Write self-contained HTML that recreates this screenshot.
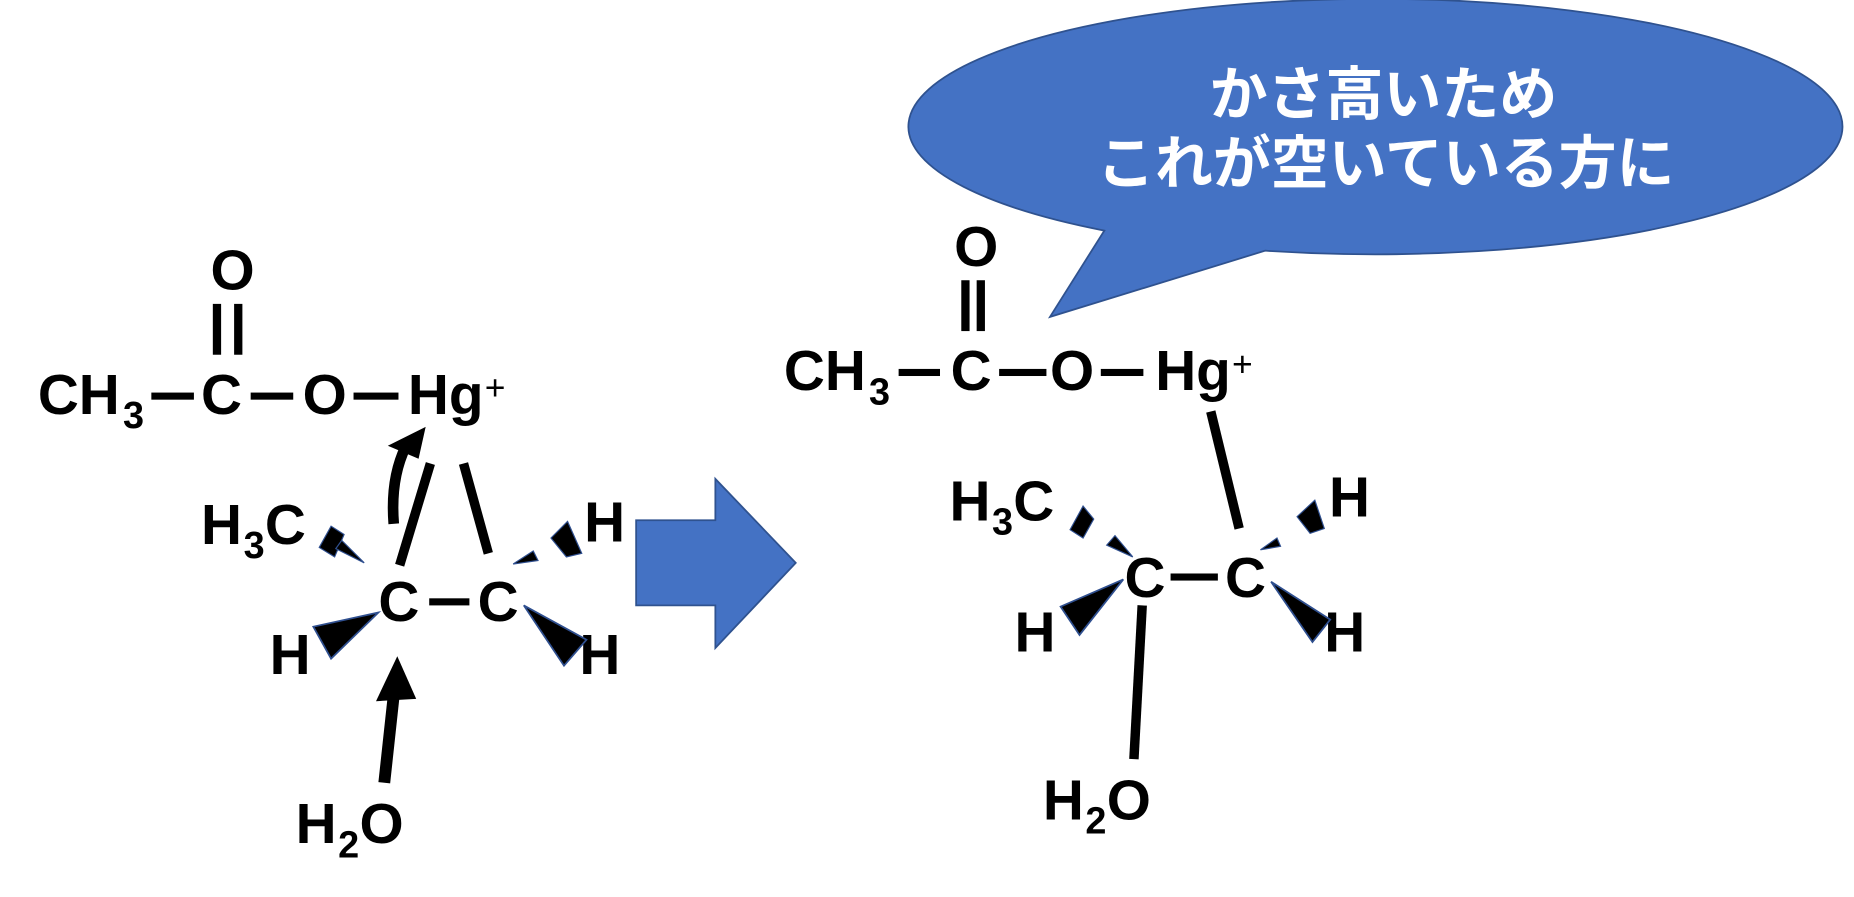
<!DOCTYPE html>
<html><head><meta charset="utf-8"><style>
html,body{margin:0;padding:0;background:#fff;}
svg{display:block;}
text{font-family:"Liberation Sans","Noto Sans CJK JP",sans-serif;font-weight:bold;fill:#000;}
</style></head><body>
<svg width="1854" height="897" viewBox="0 0 1568 758.6" preserveAspectRatio="none" xmlns="http://www.w3.org/2000/svg">
<!-- LEFT molecule -->
<g font-size="48">
<text x="178" y="245">O</text>
<rect x="180" y="257" width="7" height="43"/><rect x="198" y="257" width="7" height="43"/>
<text x="32" y="350">CH</text><text x="104" y="362" font-size="32">3</text>
<rect x="128" y="332" width="36" height="6"/>
<text x="170" y="350">C</text>
<rect x="212" y="332" width="36" height="6"/>
<text x="256" y="350">O</text>
<rect x="299" y="332" width="38" height="6"/>
<text x="345" y="350">Hg</text>
<text x="410" y="338" font-size="30" style="font-weight:normal">+</text>
</g>
<path d="M333,443 Q330,405 343,378" stroke="#000" stroke-width="9" fill="none"/>
<polygon points="360,361 328,377 354,388" fill="#000"/>
<line x1="338" y1="478" x2="364" y2="392" stroke="#000" stroke-width="8"/>
<line x1="392" y1="392" x2="413" y2="468" stroke="#000" stroke-width="8"/>
<g font-size="48">
<text x="170" y="460">H</text><text x="206" y="472" font-size="32">3</text><text x="224" y="460">C</text>
<text x="320" y="525">C</text>
<text x="404" y="525">C</text>
<text x="228" y="570">H</text>
<text x="490" y="570">H</text>
<text x="494" y="458">H</text>
<text x="250" y="713">H</text><text x="286" y="725" font-size="32">2</text><text x="304" y="713">O</text>
</g>
<rect x="363" y="506" width="34" height="6"/>
<polygon points="270,463 280,445 291,452 283,471" fill="#000" stroke="#2f4f8f" stroke-width="1"/>
<polygon points="284,464 289,457 308,476" fill="#000" stroke="#2f4f8f" stroke-width="1"/>
<polygon points="320,518 265,530 280,557" fill="#000" stroke="#2f4f8f" stroke-width="1.5"/>
<polygon points="443,512 496,541 477,563" fill="#000" stroke="#2f4f8f" stroke-width="1.5"/>
<polygon points="466,455 480,441 492,468 479,471" fill="#000" stroke="#2f4f8f" stroke-width="1"/>
<polygon points="434,477 451,466 455,474" fill="#000" stroke="#2f4f8f" stroke-width="1"/>
<line x1="325" y1="662" x2="333" y2="588" stroke="#000" stroke-width="10"/>
<polygon points="336,555 318,593 352,591" fill="#000"/>
<!-- big arrow -->
<polygon points="538,440 605,440 605,405 673,476 605,548 605,512 538,512" fill="#4472C4" stroke="#2f528f" stroke-width="1.5"/>
<!-- RIGHT molecule -->
<g font-size="48">
<text x="807" y="225">O</text>
<text x="663" y="330">CH</text><text x="735" y="342" font-size="32">3</text>
<text x="804" y="330">C</text>
<text x="888" y="330">O</text>
<text x="977" y="330">Hg</text>
<text x="1042" y="318" font-size="30" style="font-weight:normal">+</text>
<text x="803" y="440">H</text><text x="839" y="452" font-size="32">3</text><text x="857" y="440">C</text>
<text x="951" y="505">C</text>
<text x="1036" y="505">C</text>
<text x="858" y="551">H</text>
<text x="1124" y="437">H</text>
<text x="1120" y="551">H</text>
<text x="882" y="693">H</text><text x="918" y="705" font-size="32">2</text><text x="936" y="693">O</text>
</g>
<rect x="813" y="237" width="7" height="43"/><rect x="826" y="237" width="7" height="43"/>
<rect x="760" y="312" width="35" height="6"/>
<rect x="845" y="312" width="40" height="6"/>
<rect x="931" y="312" width="36" height="6"/>
<line x1="1024" y1="348" x2="1048" y2="447" stroke="#000" stroke-width="8"/>
<rect x="990" y="485" width="40" height="6"/>
<polygon points="905,448 916,428 925,439 916,455" fill="#000" stroke="#2f4f8f" stroke-width="1"/>
<polygon points="936,461 943,453 958,471" fill="#000" stroke="#2f4f8f" stroke-width="1"/>
<polygon points="950,490 897,513 913,537" fill="#000" stroke="#2f4f8f" stroke-width="1.5"/>
<line x1="966" y1="512" x2="959" y2="642" stroke="#000" stroke-width="8"/>
<polygon points="1097,437 1112,423 1120,447 1108,451" fill="#000" stroke="#2f4f8f" stroke-width="1"/>
<polygon points="1066,465 1080,455 1083,462" fill="#000" stroke="#2f4f8f" stroke-width="1"/>
<polygon points="1075,492 1125,524 1110,543" fill="#000" stroke="#2f4f8f" stroke-width="1.5"/>
<!-- callout -->
<path d="M934,195 A395,108 0 1 1 1070,212 L888,268 Z" fill="#4472C4" stroke="#2f528f" stroke-width="1.5"/>
<text x="1170" y="97" font-size="49" text-anchor="middle" style="fill:#fff">かさ高いため</text>
<text x="1172" y="155" font-size="49" text-anchor="middle" style="fill:#fff">これが空いている方に</text>
</svg>
</body></html>
